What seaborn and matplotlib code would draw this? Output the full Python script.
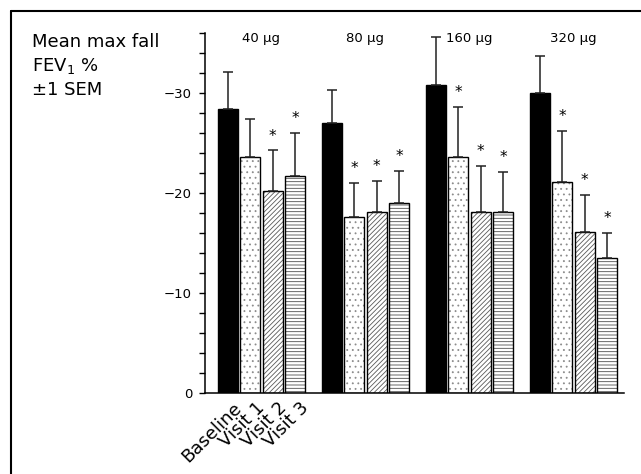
import matplotlib
matplotlib.use('Agg')
from matplotlib import pyplot as plt
from matplotlib.lines import Line2D
from matplotlib.ticker import MultipleLocator
import numpy as np
import pandas as pd
import seaborn as sns

doses = ['40 µg', '80 µg', '160 µg', '320 µg']
visits = ['Baseline', 'Visit 1', 'Visit 2', 'Visit 3']

# mean max fall in FEV1 % (negative = fall)
baseline = [-28.4, -27.0, -30.8, -30.0]
visit1 = [-23.6, -17.6, -23.6, -21.1]
visit2 = [-20.2, -18.1, -18.1, -16.1]
visit3 = [-21.7, -19.0, -18.1, -13.5]

# 1 SEM
sem_baseline = [3.7, 3.3, 4.8, 3.7]
sem_visit1 = [3.8, 3.4, 5.0, 5.1]
sem_visit2 = [4.1, 3.1, 4.6, 3.7]
sem_visit3 = [4.3, 3.2, 4.0, 2.5]

# significant vs baseline
sig_visit1 = [0, 1, 1, 1]
sig_visit2 = [1, 1, 1, 1]
sig_visit3 = [1, 1, 1, 1]

means = [baseline, visit1, visit2, visit3]
sems = [sem_baseline, sem_visit1, sem_visit2, sem_visit3]
sigs = [[0, 0, 0, 0], sig_visit1, sig_visit2, sig_visit3]

rows = []
for v, vals in zip(visits, means):
    for d, val in zip(doses, vals):
        rows.append({'dose': d, 'visit': v, 'value': val})
df = pd.DataFrame(rows)

sns.set_style('ticks', {'text.color': 'black', 'axes.edgecolor': 'black',
                        'xtick.color': 'black', 'ytick.color': 'black',
                        'axes.labelcolor': 'black'})
plt.rcParams['font.family'] = ['DejaVu Sans']
plt.rcParams['hatch.linewidth'] = 0.6

fig = plt.figure(figsize=(6.41, 4.74), dpi=100)
ax = fig.add_axes([205 / 641, 1 - 393 / 474, (624 - 205) / 641, (393 - 33) / 474])

palette = {'Baseline': 'black', 'Visit 1': 'white', 'Visit 2': 'white', 'Visit 3': 'white'}
sns.barplot(data=df, x='dose', y='value', hue='visit', hue_order=visits,
            order=doses, palette=palette, width=0.865, gap=0.11,
            edgecolor='black', linewidth=1.0, legend=False, ax=ax, errorbar=None)

hatches = [None, '...', '///////', '-----']
hatch_colors = [None, (0.55, 0.55, 0.55, 1), (0.35, 0.35, 0.35, 1), (0.3, 0.3, 0.3, 1)]
for cont, h, hc, vals, err, sg in zip(ax.containers, hatches, hatch_colors, means, sems, sigs):
    xs = []
    for p in cont:
        if h:
            p.set_hatch(h)
            p._hatch_color = hc
        xs.append(p.get_x() + p.get_width() / 2)
    xs = np.array(xs)
    vals = np.array(vals)
    err = np.array(err)
    ax.errorbar(xs, vals, yerr=[err, np.zeros_like(err)], fmt='none',
                ecolor='#222222', elinewidth=1.1, capsize=3.6, capthick=1.1, zorder=3)
    for x, top, s in zip(xs, vals - err, sg):
        if s:
            ax.text(x, top - 1.4, '*', ha='center', va='center', fontsize=11)

# visit labels under the first group only
for cont, v in zip(ax.containers, visits):
    p = cont[0]
    ax.annotate(v, xy=(p.get_x() + p.get_width() / 2, 0), xycoords='data',
                xytext=(3.5, -4), textcoords='offset points',
                ha='right', va='top', rotation=45, rotation_mode='anchor', fontsize=13)

for i, d in enumerate(doses):
    ax.text(i, -35.4, d, ha='center', va='center', fontsize=9.5)

ax.set_xlim(-0.543, 3.486)
ax.set_ylim(0, -36)
ax.yaxis.set_minor_locator(MultipleLocator(2))
ax.set_yticks([0, -10, -20, -30])
ax.tick_params(axis='y', which='both', length=4.3, width=1.0, labelsize=9.5, pad=5)
ax.tick_params(axis='x', length=0, labelbottom=False)
ax.set_xlabel('')
ax.set_ylabel('')
for s in ['top', 'right']:
    ax.spines[s].set_visible(False)
for s in ['left', 'bottom']:
    ax.spines[s].set_linewidth(1.1)

fig.text(32 / 641, 1 - 47 / 474, 'Mean max fall', fontsize=13, va='baseline')
fig.text(32 / 641, 1 - 71 / 474, 'FEV$_1$ %', fontsize=13, va='baseline')
fig.text(32 / 641, 1 - 95 / 474, '±1 SEM', fontsize=13, va='baseline')

# frame around figure
fig.add_artist(Line2D([11 / 641, 11 / 641], [0, 1 - 11 / 474], color='black', lw=1.5))
fig.add_artist(Line2D([11 / 641, 1], [1 - 11 / 474, 1 - 11 / 474], color='black', lw=1.5))

fig.savefig('out.png', dpi=100)
